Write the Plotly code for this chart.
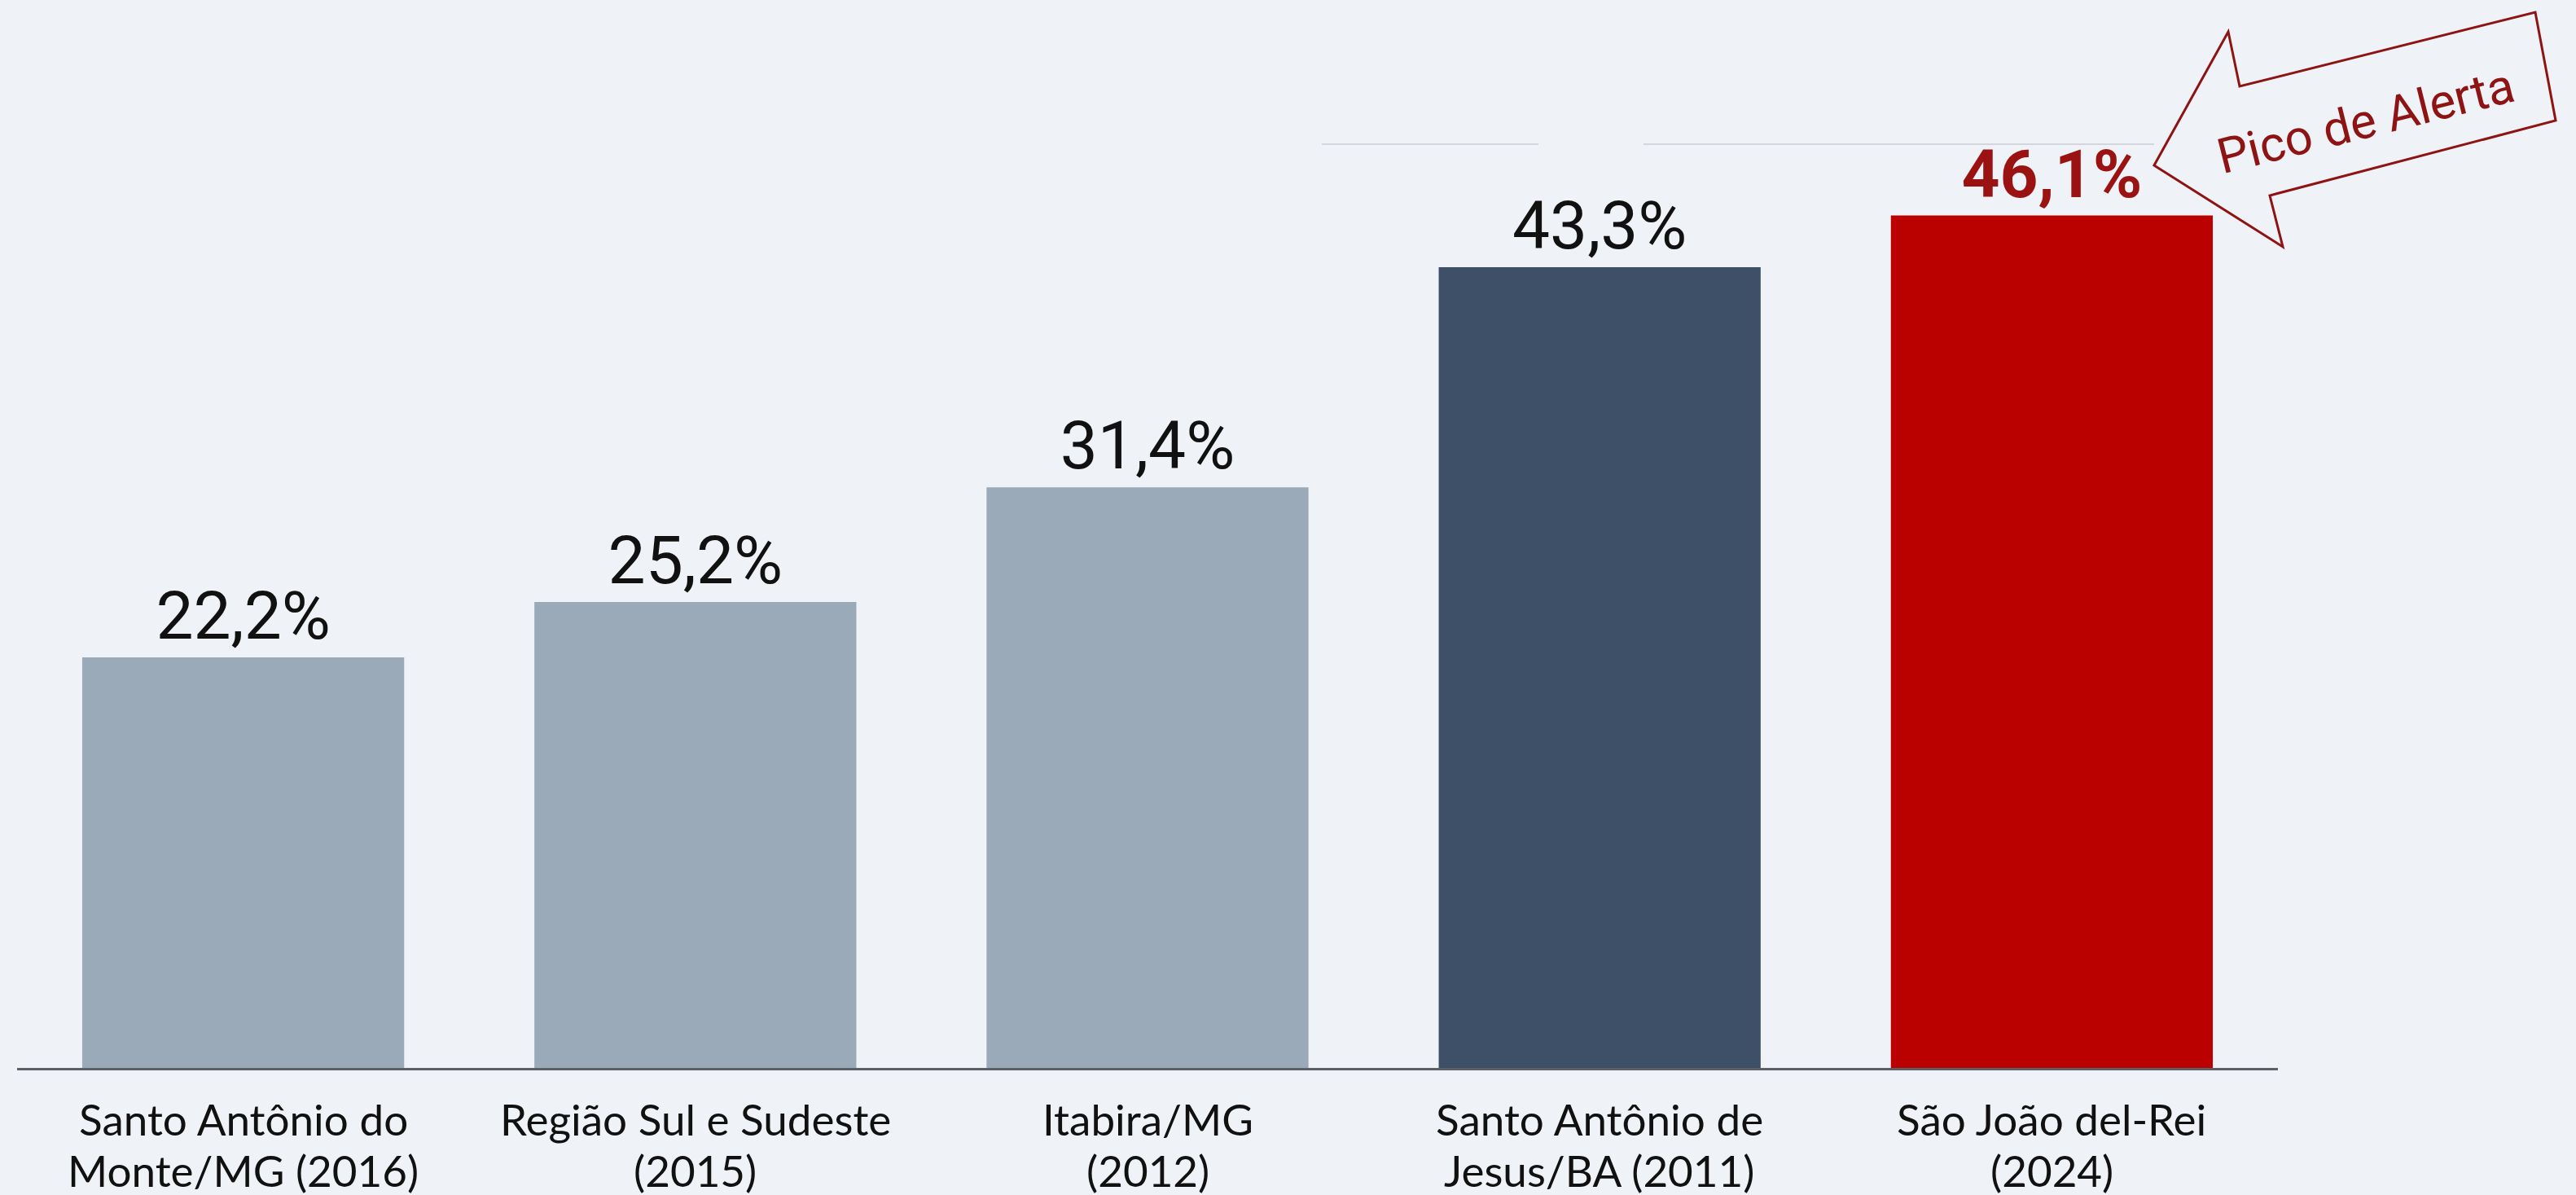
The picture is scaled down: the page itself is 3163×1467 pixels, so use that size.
import plotly.graph_objects as go

categories = [
    "Santo Antônio do<br>Monte/MG (2016)",
    "Região Sul e Sudeste<br>(2015)",
    "Itabira/MG<br>(2012)",
    "Santo Antônio de<br>Jesus/BA (2011)",
    "São João del-Rei<br>(2024)",
]
values = [22.2, 25.2, 31.4, 43.3, 46.1]
bar_colors = ["#9aaab9", "#9aaab9", "#9aaab9", "#3e5068", "#bb0000"]
label_colors = ["#111111", "#111111", "#111111", "#111111", "#9b1212"]
label_templates = ["%{y:.1f}%", "%{y:.1f}%", "%{y:.1f}%", "%{y:.1f}%", "<b>%{y:.1f}%</b>"]
callout_text = "Pico de Alerta"

BG = "#eff2f7"
W, H = 3163, 1467
L, R, T, B = 21, 366, 176, 156
pw, ph = W - L - R, H - T - B


def px(x):
    return (x - L) / pw


def py(y):
    return (H - B - y) / ph


fig = go.Figure()
fig.add_trace(go.Bar(
    x=categories,
    y=values,
    marker=dict(color=bar_colors, line=dict(width=0)),
    texttemplate=label_templates,
    textposition="outside",
    constraintext="none",
    cliponaxis=False,
    textfont=dict(family="Roboto, Arial, sans-serif", size=82, color=label_colors),
    hoverinfo="skip",
))

# category labels (two lines each, tighter line spacing than tick labels allow)
for cat in categories:
    lines = cat.split("<br>")
    for line, ypix in zip(lines, (1373, 1436)):
        fig.add_annotation(xref="x", yref="paper", x=cat, y=py(ypix),
                           text=line, showarrow=False,
                           xanchor="center", yanchor="middle",
                           font=dict(family="Lato, sans-serif", size=53, color="#111111"))

# faint top gridline segments
for x0, x1 in [(1623, 1889), (2018, 2645)]:
    fig.add_shape(type="line", xref="paper", yref="paper",
                  x0=px(x0), x1=px(x1), y0=py(177), y1=py(177),
                  line=dict(color="#d3d7dd", width=2), layer="below")

# callout arrow
pts = [(2645, 203), (2736, 39), (2750, 106), (3113, 15), (3138, 148),
       (2787, 240), (2803, 303)]
path = "M " + " L ".join(f"{px(x):.5f},{py(y):.5f}" for x, y in pts) + " Z"
fig.add_shape(type="path", xref="paper", yref="paper", path=path,
              line=dict(color="#8e1313", width=3), fillcolor=BG, layer="above")
fig.add_annotation(xref="paper", yref="paper", x=px(2905), y=py(148),
                   text=callout_text, showarrow=False, textangle=-14,
                   font=dict(family="Roboto, Arial, sans-serif", size=60,
                             color="#8e1313"),
                   xanchor="center", yanchor="middle")

fig.update_layout(
    width=W, height=H,
    margin=dict(l=L, r=R, t=T, b=B, pad=0, autoexpand=False),
    paper_bgcolor=BG, plot_bgcolor=BG,
    bargap=0.288,
    separators=",.",
    showlegend=False,
    font=dict(family="Lato, sans-serif", color="#111111"),
)
fig.update_xaxes(
    automargin=False, showticklabels=False,
    showline=True, linecolor="#5c6168", linewidth=3,
    showgrid=False, ticks="",
)
fig.update_yaxes(automargin=False, range=[0, 50], visible=False,
                 showgrid=False, zeroline=False)

fig.write_html(
    "out.html",
    config={"displayModeBar": False},
    post_script="document.body.style.margin='0';document.body.style.background='%s';" % BG,
)
